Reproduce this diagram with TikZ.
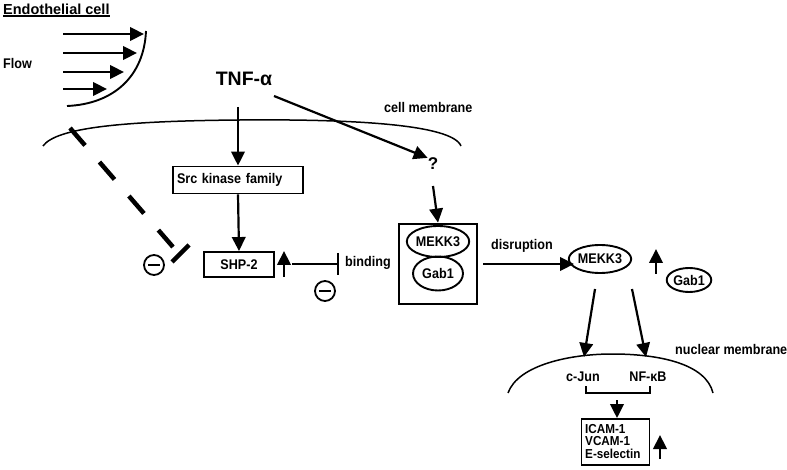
\documentclass[tikz,border=0pt]{standalone}
\usepackage{fontspec}
\setmainfont{Liberation Sans}[FakeStretch=0.9]
\newfontfamily\widefont{Liberation Sans}
\usetikzlibrary{arrows.meta,shapes.geometric}
\tikzset{
  lab/.style={font=\bfseries\fontsize{14}{14}\selectfont, inner sep=0pt},
  arr/.style={line width=2.2pt, -{Triangle[length=14pt,width=13.5pt]}},
  thinline/.style={line width=1.5pt},
  boxnode/.style={draw, line width=1.9pt, lab, minimum width=#1},
  ell/.style={ellipse, draw, line width=1.9pt, lab, inner sep=0pt},
  minuscirc/.style={circle, draw, line width=1.8pt, minimum size=20pt, inner sep=0pt,
    path picture={\draw[line width=1.8pt] ([xshift=-6pt]path picture bounding box.center) -- ([xshift=6pt]path picture bounding box.center);}},
}
\begin{document}
\begin{tikzpicture}[x=1pt,y=-1pt]
\useasboundingbox (0,0) rectangle (787,470);
% title and flow
\node[font=\widefont\bfseries\fontsize{14.5}{14.5}\selectfont, inner sep=0pt, anchor=west] (title) at (3,9) {Endothelial cell};
\draw[line width=1.4pt] ([yshift=-1.5pt]title.south west) -- ([yshift=-1.5pt]title.south east);
\node[lab, anchor=west] (flow) at (3,63) {Flow};
\foreach \i/\y/\xe in {1/34/144, 2/53/137, 3/72/124, 4/89/107} {
  \coordinate (fs\i) at (63,\y);
  \coordinate (fe\i) at (\xe,\y);
  \draw[arr] (fs\i) -- (fe\i);
}
\coordinate (fc1) at (146,31);
\coordinate (fc2) at (67,106);
\draw[line width=1.9pt] (fc1) .. controls (144,76) and (114,104) .. (fc2);
% cell membrane
\coordinate (m1) at (43,146);
\coordinate (m2) at (240,120);
\coordinate (m3) at (461,146);
\draw[thinline] (m1) .. controls (56,128) and (120,121) .. (m2) .. controls (350,119) and (452,124) .. (m3);
\node[lab, anchor=west] (cellmem) at (384,107) {cell membrane};
% TNF
\node[font=\widefont\bfseries\fontsize{19.5}{19.5}\selectfont, inner sep=0pt] (tnf) at (244,79) {TNF-α};
\node[font=\widefont\bfseries\fontsize{17}{17}\selectfont, inner sep=0pt] (q) at (433,164) {?};
\coordinate (tnfd) at (238,107);
\coordinate (tnfr) at (274,96);
% Src
\node[boxnode=130pt, minimum height=27pt, text width=122pt, align=left] (src) at (238,180) {Src kinase family};
\draw[arr] (tnfd) -- (src.north);
\draw[arr] (tnfr) -- (q.north west);
% SHP-2
\node[boxnode=70pt, minimum height=25pt] (shp) at (239,264.5) {SHP-2};
\draw[arr] (src.south) -- (shp.north);
\coordinate (shpu1) at (284,277);
\coordinate (shpu2) at (284,251);
\draw[arr] (shpu1) -- (shpu2);
\node[lab, anchor=west] (binding) at (345,263) {binding};
\coordinate (inh1) at (292,264);
\coordinate (inh2) at (339,264);
\draw[line width=1.9pt, -{Bar[width=22pt,line width=1.9pt]}] (inh1) -- (inh2);
\node[minuscirc] (min2) at (325,291) {};
\node[minuscirc] (min1) at (154,265) {};
% dashed inhibition
\coordinate (d1) at (70,128);
\coordinate (d2) at (173,247);
\draw[line width=4.5pt, dash pattern=on 23pt off 22pt] (d1) -- (d2);
\coordinate (b1) at (172,262);
\coordinate (b2) at (189,245);
\draw[line width=4.5pt] (b1) -- (b2);
% complex
\node[draw, line width=2.8pt, minimum width=78pt, minimum height=80pt, inner sep=0pt] (cplx) at (438,264) {};
\node[ell, minimum width=62pt, minimum height=31pt] (mekk) at (438,241.5) {MEKK3};
\node[ell, minimum width=50pt, minimum height=34pt] (gab) at (438,273.5) {Gab1};
\coordinate (qs) at (433,186);
\draw[arr] (qs) -- (cplx.north);
% disruption
\node[ell, minimum width=51pt, minimum height=28pt] (mekk2) at (600,259) {MEKK3};
\coordinate (ce) at (483,264);
\coordinate (cd) at (574,264);
\draw[arr] (ce) -- (cd);
\node[lab] (disr) at (522,246) {disruption};
\coordinate (mu1) at (656,274);
\coordinate (mu2) at (656,249);
\draw[arr] (mu1) -- (mu2);
\node[ell, minimum width=42pt, minimum height=24pt] (gab2) at (689,280) {Gab1};
% nuclear
\coordinate (n1) at (508,393);
\coordinate (n2) at (612,354);
\coordinate (n3) at (713,393);
\draw[thinline] (n1) .. controls (518,365) and (570,354) .. (n2) .. controls (660,354) and (706,364) .. (n3);
\node[lab, anchor=west] (nucmem) at (675,349) {nuclear membrane};
\coordinate (a1s) at (595,289);
\coordinate (a1e) at (584,357);
\coordinate (a2s) at (632,289);
\coordinate (a2e) at (646,357);
\draw[arr] (a1s) -- (a1e);
\draw[arr] (a2s) -- (a2e);
\node[lab] (cjun) at (583,377) {c-Jun};
\node[lab] (nfkb) at (648,377) {NF-κB};
\coordinate (br1) at (586,386);
\coordinate (br2) at (650,386);
\draw[thinline] (br1) -- ++(0,7) coordinate (br3) -- (br2 |- br3) -- (br2);
\node[draw, line width=1.9pt, minimum width=68pt, minimum height=46pt, inner sep=0pt] (icam) at (615.5,442) {};
\node[lab, align=left, font=\bfseries\fontsize{13}{12.5}\selectfont, anchor=north west] (icamt) at (585,424) {ICAM-1\\VCAM-1\\E-selectin};
\coordinate (sm1) at (617,400);
\draw[arr] (sm1) -- (icam.north -| sm1);
\coordinate (iu1) at (660,459);
\coordinate (iu2) at (660,435);
\draw[arr] (iu1) -- (iu2);
\end{tikzpicture}
\end{document}
